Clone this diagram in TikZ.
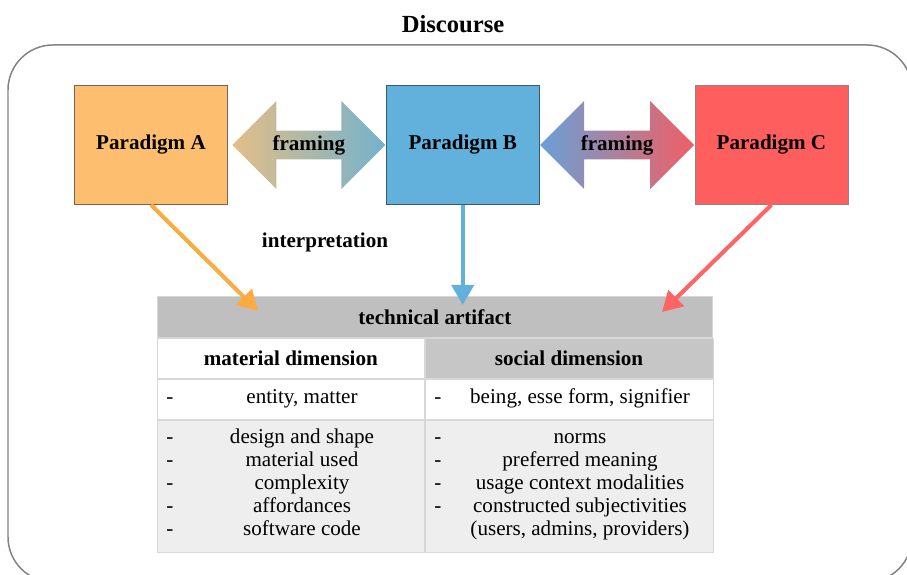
\documentclass[tikz,border=0pt]{standalone}
\usepackage{fontspec}
\setmainfont{Liberation Serif}
\usetikzlibrary{shapes.arrows,arrows.meta,positioning}
\definecolor{paraA}{RGB}{253,191,111}
\definecolor{paraAline}{RGB}{120,100,80}
\definecolor{paraB}{RGB}{98,177,221}
\definecolor{paraBline}{RGB}{60,90,110}
\definecolor{paraC}{RGB}{255,94,94}
\definecolor{paraCline}{RGB}{150,130,130}
\definecolor{frameA}{RGB}{228,190,135}
\definecolor{frameB}{RGB}{115,178,205}
\definecolor{frameC}{RGB}{105,160,215}
\definecolor{frameD}{RGB}{240,95,100}
\definecolor{orangearrow}{RGB}{251,171,64}
\definecolor{bluearrow}{RGB}{98,177,221}
\definecolor{redarrow}{RGB}{255,100,100}
\definecolor{hdrgray}{RGB}{191,191,191}
\definecolor{socgray}{RGB}{198,198,198}
\definecolor{rowgray}{RGB}{238,238,238}
\definecolor{tabline}{RGB}{215,215,215}
\definecolor{outline}{RGB}{130,130,130}
\tikzset{
	framing/.style={
		double arrow,
		double arrow head extend=0.42cm,
		minimum width=1.76cm,
		minimum height=3.06cm,
		inner sep=0pt,
		font=\fontsize{12}{13}\selectfont\bfseries
	}
}

\begin{document}
\begin{tikzpicture}[font=\fontsize{12}{13}\selectfont]
		\tikzstyle{paradigm}=[rectangle, minimum width=3.06cm, minimum height=2.38cm, draw, font=\fontsize{12}{13}\selectfont\bfseries]
		\tikzstyle{interp}=[line width=2.3pt, -{Triangle[length=0.4cm,width=0.44cm]}]
		\tikzstyle{cell}=[rectangle, draw=tabline, inner sep=0pt, anchor=north west]
		\tikzstyle{head}=[font=\fontsize{12}{13}\selectfont\bfseries]
		\useasboundingbox (0,0) rectangle (18.14,11.5);
		
		\node[head, font=\fontsize{14}{16}\selectfont\bfseries] (title) at (9.06,11.02) {Discourse};
		\draw[outline, line width=0.85pt, rounded corners=0.9cm] (0.16,10.6) rectangle (18.24,-0.14);
		
		% paradigms and the framing arrows between them
		\node[paradigm, fill=paraA, draw=paraAline] (pa) at (3.02,8.6) {Paradigm A};
		\node[framing, left color=frameA, right color=frameB, right=0.08cm of pa] (f1) {framing};
		\node[paradigm, fill=paraB, draw=paraBline, right=0cm of f1] (pb) {Paradigm B};
		\node[framing, minimum height=3.08cm, left color=frameC, right color=frameD, right=0cm of pb] (f2) {framing};
		\node[paradigm, fill=paraC, draw=paraCline, right=0cm of f2] (pc) {Paradigm C};
		
		\node[head] (interpretation) at (6.5,6.66) {interpretation};
		
		% table
		\node[cell, head, fill=hdrgray, minimum width=11.1cm, minimum height=0.82cm] (hdr) at (3.14,5.57) {technical artifact};
		\node[cell, head, fill=white, minimum width=5.34cm, minimum height=0.8cm] (mat) at (hdr.south west) {material dimension};
		\node[cell, head, fill=socgray, minimum width=5.76cm, minimum height=0.8cm] (soc) at (mat.north east) {social dimension};
		\node[cell, fill=white, minimum width=5.34cm, minimum height=0.8cm] (matone) at (mat.south west) {};
		\node[cell, fill=white, minimum width=5.76cm, minimum height=0.8cm] (socone) at (soc.south west) {};
		\node[cell, fill=rowgray, minimum width=5.34cm, minimum height=2.64cm] (matlist) at (matone.south west) {};
		\node[cell, fill=rowgray, minimum width=5.76cm, minimum height=2.64cm] (soclist) at (socone.south west) {};
		
		\node (dashA) at (3.4,3.53) {\strut-};
		\node (entity) at (6.04,3.53) {\strut entity, matter};
		\node (dashB) at (8.76,3.53) {\strut-};
		\node (being) at (11.6,3.53) {\strut being, esse form, signifier};
		
		\node[align=center] (matdash) at (3.4,1.8) {\strut-\\\strut-\\\strut-\\\strut-\\\strut-};
		\node[align=center] (matitems) at (6.04,1.8) {\strut design and shape\\\strut material used\\\strut complexity\\\strut affordances\\\strut software code};
		\node[align=center] (socdash) at (8.76,2.03) {\strut-\\\strut-\\\strut-\\\strut-};
		\node[align=center] (socitems) at (11.6,1.8) {\strut norms\\\strut preferred meaning\\\strut usage context modalities\\\strut constructed subjectivities\\\strut (users, admins, providers)};
		
		% interpretation arrows into the table
		\coordinate (ta) at (5.16,5.28);
		\coordinate (tb) at (9.24,5.40);
		\coordinate (tc) at (13.24,5.26);
		\draw[interp, orangearrow] (pa.south) -- (ta);
		\draw[interp, bluearrow] (pb.south) -- (pb.south |- tb);
		\draw[interp, redarrow] (pc.south) -- (tc);
		
\end{tikzpicture}
\end{document}
